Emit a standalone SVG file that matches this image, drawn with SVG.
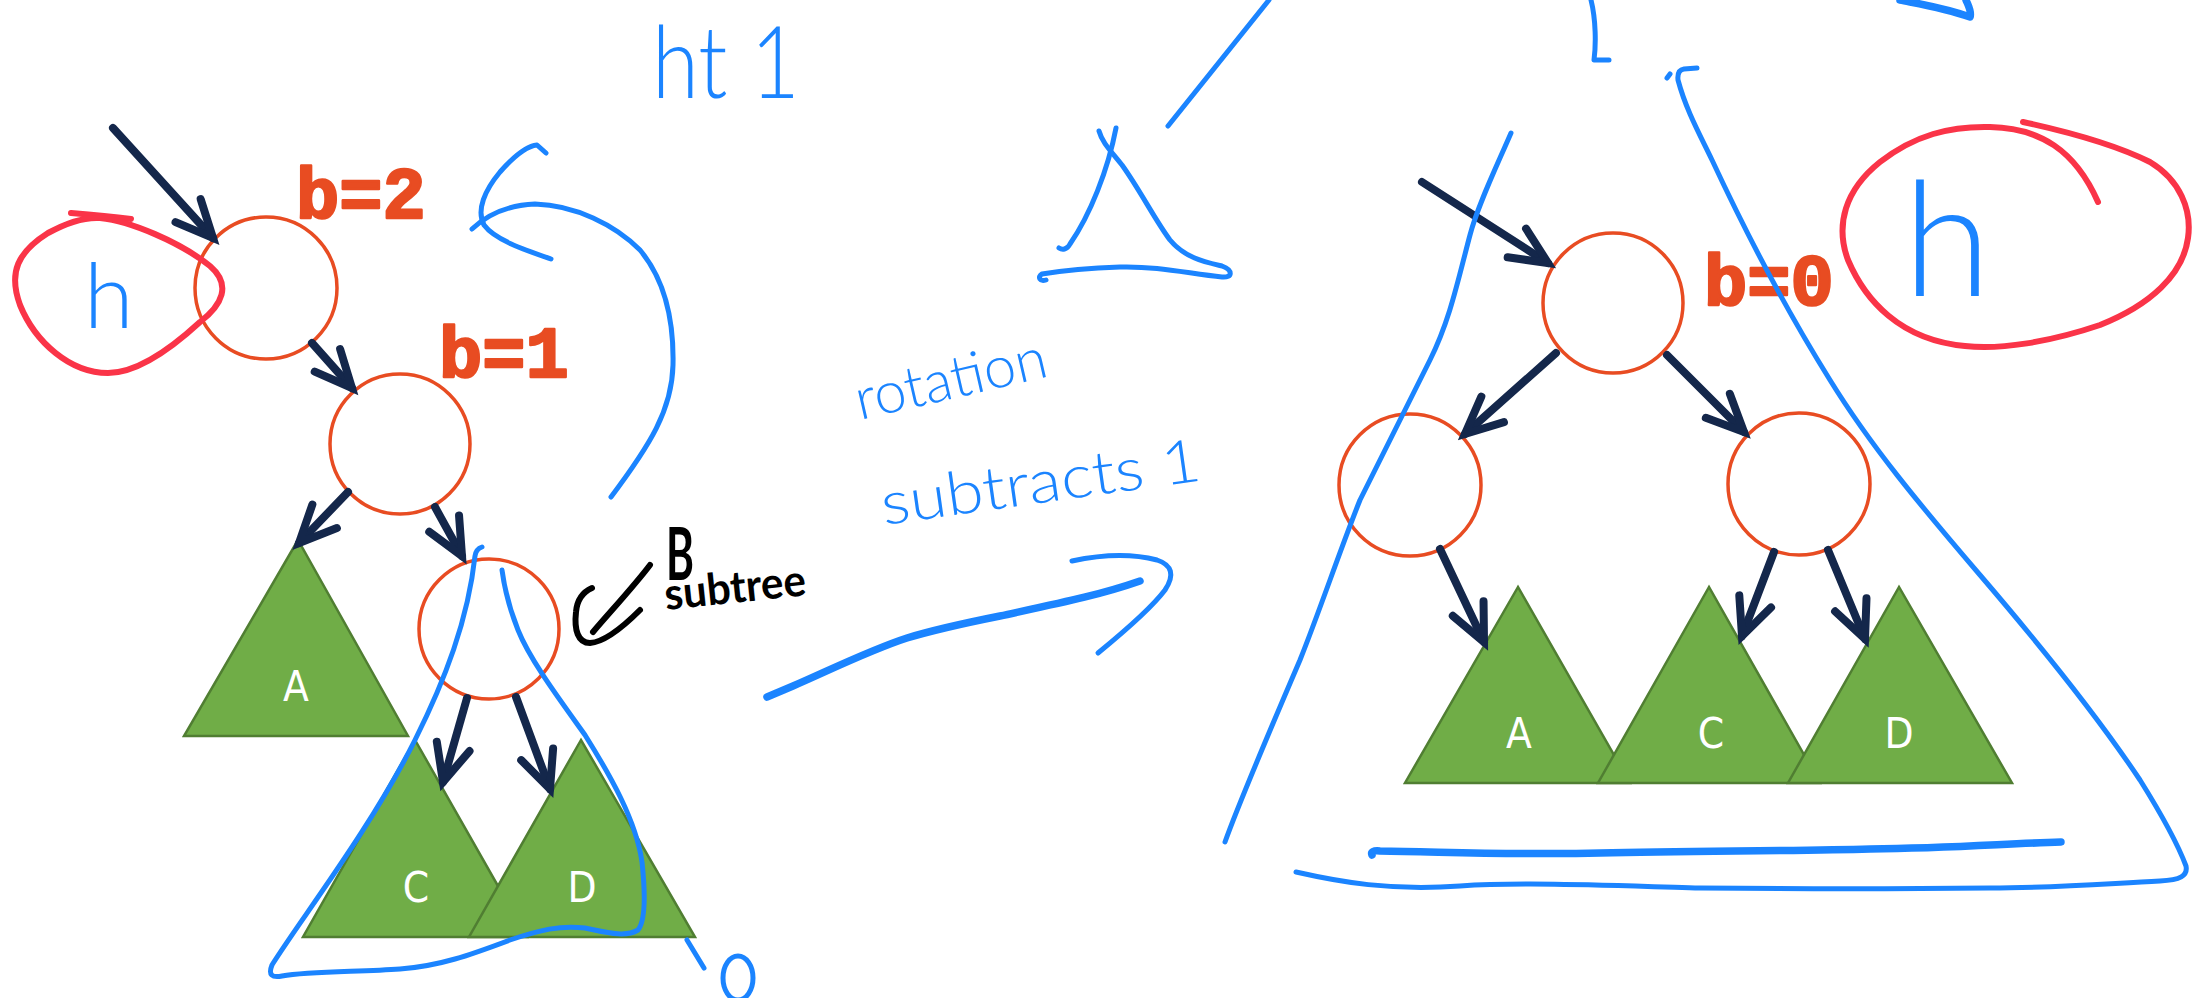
<svg xmlns="http://www.w3.org/2000/svg" width="2198" height="998" viewBox="0 0 2198 998">
<defs>
<style>
.node{fill:none;stroke:#E84C22;stroke-width:3.5}
.bal{font-family:"Liberation Mono","Courier New",monospace;font-weight:bold;font-size:72px;fill:#E84C22;stroke:#E84C22;stroke-width:2.5;stroke-linejoin:round}
.tri{fill:#70AD47;stroke:#507E32;stroke-width:2.5}
.tl{font-family:"Liberation Sans Narrow","DejaVu Sans Condensed","Liberation Sans",sans-serif;font-size:42px;fill:#ffffff;text-anchor:middle}
.edge{fill:none;stroke:#14274B;stroke-width:8;stroke-linecap:round;marker-end:url(#ah)}
.ink{fill:none;stroke:#1B84FF;stroke-width:5;stroke-linecap:round;stroke-linejoin:round}
.thick{stroke-width:7.5}
.red{fill:none;stroke:#FA3448;stroke-width:6;stroke-linecap:round;stroke-linejoin:round}
.hand{font-family:Lato,"Noto Sans",sans-serif;font-weight:300;fill:#1B84FF}
.handk{font-family:Lato,"Noto Sans",sans-serif;font-weight:700;fill:#000000}
.blk{fill:none;stroke:#000000;stroke-width:6;stroke-linecap:round;stroke-linejoin:round}
</style>
<marker id="ah" markerUnits="userSpaceOnUse" viewBox="-50 -30 70 60" refX="0" refY="0" markerWidth="70" markerHeight="60" orient="auto" overflow="visible">
<path d="M -37,-17 L 0,0 L -37,17" fill="none" stroke="#14274B" stroke-width="8" stroke-linecap="round"/>
</marker>
</defs>
<rect x="0" y="0" width="2198" height="998" fill="#ffffff"/>

<!-- left tree subtrees -->
<g id="L-A"><polygon class="tri" points="298,540 184,736 408,736"/><text class="tl" x="296" y="701">A</text></g>
<g id="L-C"><polygon class="tri" points="415,740 303,937 527,937"/><text class="tl" x="416" y="902">C</text></g>
<g id="L-D"><polygon class="tri" points="581,740 469,937 695,937"/><text class="tl" x="582" y="902">D</text></g>

<!-- left tree nodes -->
<g id="L-root"><circle class="node" cx="266" cy="288" r="71"/><text class="bal" x="296" y="218">b=2</text></g>
<g id="L-n1"><circle class="node" cx="400" cy="444" r="70"/><text class="bal" x="439" y="377">b=1</text></g>
<g id="L-B"><circle class="node" cx="489" cy="629" r="70"/></g>

<!-- right tree subtrees -->
<g id="R-A"><polygon class="tri" points="1518,587 1405,783 1630,783"/><text class="tl" x="1519" y="748">A</text></g>
<g id="R-C"><polygon class="tri" points="1709,587 1598,783 1820,783"/><text class="tl" x="1711" y="748">C</text></g>
<g id="R-D"><polygon class="tri" points="1899,587 1788,783 2012,783"/><text class="tl" x="1899" y="748">D</text></g>

<!-- right tree nodes -->
<g id="R-root"><circle class="node" cx="1613" cy="303" r="70"/><text class="bal" x="1704" y="305">b=0</text></g>
<g id="R-left"><circle class="node" cx="1410" cy="485" r="71"/></g>
<g id="R-right"><circle class="node" cx="1799" cy="484" r="71"/></g>

<!-- connectors -->
<g id="connectors">
<path class="edge" d="M113,128 L213,238"/>
<path class="edge" d="M312,343 L352,388"/>
<path class="edge" d="M348,492 L299,543"/>
<path class="edge" d="M435,507 L462,556"/>
<path class="edge" d="M467,698 L443,782"/>
<path class="edge" d="M516,697 L550,789"/>
<path class="edge" d="M1422,182 L1548,263"/>
<path class="edge" d="M1556,353 L1465,434"/>
<path class="edge" d="M1667,355 L1744,432"/>
<path class="edge" d="M1440,549 L1484,642"/>
<path class="edge" d="M1774,552 L1742,636"/>
<path class="edge" d="M1828,550 L1865,639"/>
</g>

<!-- red annotations -->
<g id="red-marks">
<path class="red" d="M71,213 C95,215 115,217 131,219"/>
<path class="red" d="M100,218 C130,221 180,242 210,266 C232,285 222,305 200,322 C175,345 140,373 108,373 C70,373 35,342 20,305 C8,272 18,252 48,233 C68,222 85,217 100,218 Z"/>
<path class="red" d="M2023,122 C2060,130 2110,142 2150,162 C2180,180 2192,210 2188,238 C2183,275 2150,305 2100,325 C2050,342 2000,350 1965,346 C1900,340 1865,300 1848,260 C1835,225 1845,190 1880,162 C1915,135 1950,126 1990,127 C2040,128 2075,150 2098,202"/>
</g>

<!-- blue annotations -->
<g id="blue-marks">
<text class="hand" x="84" y="328" font-size="90">h</text>
<text class="hand" x="1903" y="296" font-size="160" font-weight="200">h</text>
<text class="hand" x="652" y="98" font-size="100" textLength="148" lengthAdjust="spacingAndGlyphs">ht 1</text>
<text class="hand" x="860" y="420" font-size="58" textLength="195" lengthAdjust="spacingAndGlyphs" transform="rotate(-13 860 420)">rotation</text>
<text class="hand" x="884" y="525" font-size="60" textLength="322" lengthAdjust="spacingAndGlyphs" transform="rotate(-8 884 525)">subtracts 1</text>

<path class="ink" d="M551,259 C525,250 495,240 484,225 C476,210 485,190 500,172 C515,155 528,146 537,145 L546,153"/>
<path class="ink" d="M472,229 C490,212 510,205 535,204 C575,205 615,225 640,250 C665,280 674,320 673,365 C672,410 650,445 611,497"/>
<path class="ink" d="M482,547 Q476,549 475,556 C468,620 445,680 415,740 C370,830 300,920 272,965 C268,975 272,978 282,976 C310,971 360,972 400,969 C440,966 470,955 510,940 C540,930 560,925 585,928 C605,932 625,938 638,930 C646,920 645,890 642,862 C636,820 610,775 585,735 C560,700 530,660 518,630 C508,605 504,585 502,570"/>
<path class="ink" d="M687,940 L704,968"/>
<ellipse class="ink" cx="738" cy="978" rx="15" ry="22"/>
<path class="ink thick" d="M767,697 L793,686 C830,670 870,650 907,638 C940,628 970,622 1000,616 C1060,603 1100,595 1140,581"/>
<path class="ink" d="M1072,561 C1100,555 1130,553 1157,560 C1172,565 1175,575 1165,590 C1150,610 1120,635 1098,653"/>
<path class="ink" d="M1116,128 C1108,170 1090,215 1070,244 C1067,250 1062,250 1059,248"/>
<path class="ink" d="M1099,131 C1102,142 1110,150 1122,165 C1140,190 1155,220 1170,240 C1185,258 1205,262 1222,266 C1233,270 1233,278 1222,277 C1190,274 1160,266 1120,267 C1090,268 1060,271 1042,274 C1037,277 1040,282 1046,280"/>
<path class="ink" d="M1269,0 L1168,126"/>
<path class="ink" d="M1591,0 C1596,20 1596,45 1594,60 L1609,60"/>
<path class="ink thick" d="M1900,0 C1920,4 1945,8 1970,17 C1972,12 1968,5 1966,0"/>
<path class="ink" d="M1667,78 L1670,74"/>
<path class="ink" d="M1511,133 C1495,170 1478,205 1470,235 C1458,280 1450,320 1430,360 C1410,400 1385,450 1360,500 C1340,550 1320,610 1300,660 C1270,730 1240,800 1225,842"/>
<path class="ink" d="M1697,68 L1684,69 Q1677,70 1678,80 C1686,110 1700,135 1712,160 C1740,220 1780,300 1830,380 C1870,445 1920,505 1980,575 C2040,645 2100,720 2140,780 C2165,820 2180,850 2186,866 C2188,876 2180,880 2160,881 C2100,884 2050,888 1990,888 C1900,889 1800,889 1700,888 C1600,885 1520,882 1460,886 C1390,891 1340,882 1296,872"/>
<path class="ink thick" d="M1372,855 Q1370,850 1380,851 C1450,852 1520,855 1600,853 C1700,851 1800,851 1870,849 C1950,848 2000,844 2061,842"/>
</g>

<!-- black annotation -->
<g id="black-marks">
<path class="blk" d="M640,610 C625,625 605,642 590,643 C578,643 574,630 576,612 C577,600 583,592 592,588"/>
<path class="blk" d="M650,565 C635,585 610,612 593,632"/>
<text class="handk" x="666" y="580" font-size="72" font-weight="400" textLength="28" lengthAdjust="spacingAndGlyphs">B</text>
<text class="handk" x="666" y="610" font-size="44" textLength="142" lengthAdjust="spacingAndGlyphs" transform="rotate(-6 666 610)">subtree</text>
</g>
</svg>
